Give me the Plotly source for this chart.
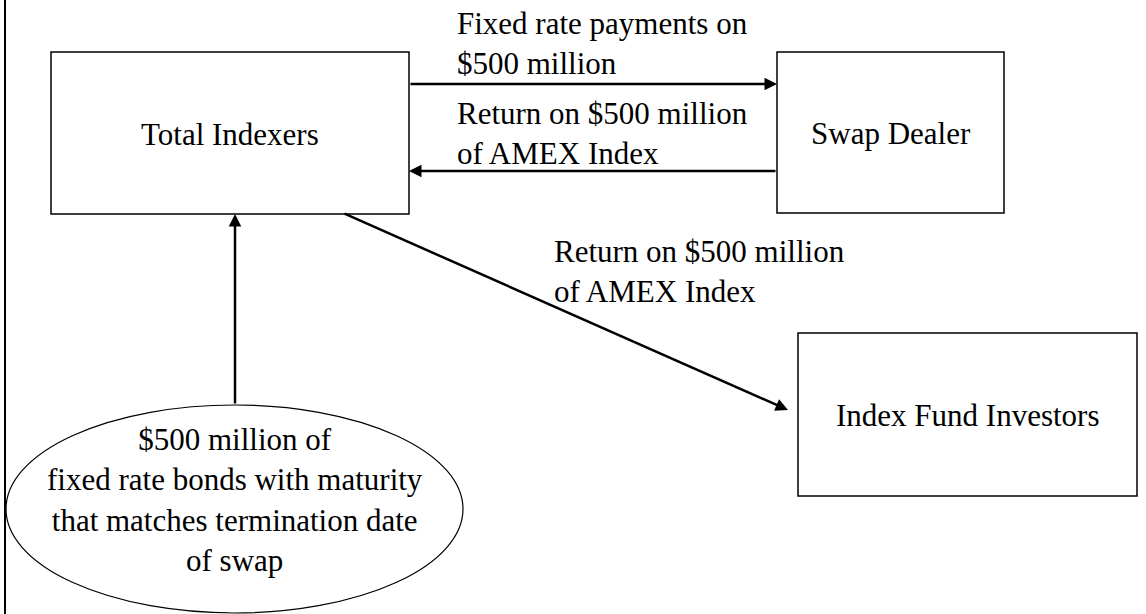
import plotly.graph_objects as go

# node labels
node_labels = ['Total Indexers', 'Swap Dealer', 'Index Fund Investors']
bond_label = ['$500 million of', 'fixed rate bonds with maturity',
              'that matches termination date', 'of swap']

# flow labels
fixed_flow = ['Fixed rate payments on', '$500 million']
index_flow = ['Return on $500 million', 'of AMEX Index']
investor_flow = ['Return on $500 million', 'of AMEX Index']

W, H = 1146, 614
FONT = 'Liberation Serif, Times New Roman, serif'
FS = 31

# box geometry (x0, y0, x1, y1) in pixel space, y downwards
boxes = [(51, 52, 409, 214), (777, 52, 1004, 213), (798, 333, 1137, 496)]
ellipse = (6, 405, 463, 613)

fig = go.Figure()

shapes = []
for b in boxes:
    shapes.append(dict(type='rect', x0=b[0], y0=b[1], x1=b[2], y1=b[3],
                       line=dict(color='black', width=1.5), xref='x', yref='y'))
shapes.append(dict(type='circle', x0=ellipse[0], y0=ellipse[1], x1=ellipse[2], y1=ellipse[3],
                   line=dict(color='black', width=1.2), xref='x', yref='y'))
# left page border
shapes.append(dict(type='line', x0=5, y0=0, x1=5, y1=H,
                   line=dict(color='black', width=2), xref='x', yref='y'))

annots = []
# box labels
for b, lab in zip(boxes, node_labels):
    annots.append(dict(x=(b[0] + b[2]) / 2, y=(b[1] + b[3]) / 2 + 1, text=lab,
                       showarrow=False, xanchor='center', yanchor='middle'))
# ellipse label
annots.append(dict(x=(ellipse[0] + ellipse[2]) / 2, y=500, text='<br>'.join(bond_label),
                   showarrow=False, xanchor='center', yanchor='middle', align='center'))

# flow labels
annots.append(dict(x=455, y=43, text='<br>'.join(fixed_flow), showarrow=False,
                   xanchor='left', yanchor='middle', align='left'))
annots.append(dict(x=455, y=133, text='<br>'.join(index_flow), showarrow=False,
                   xanchor='left', yanchor='middle', align='left'))
annots.append(dict(x=552, y=271, text='<br>'.join(investor_flow), showarrow=False,
                   xanchor='left', yanchor='middle', align='left'))

# arrows: (tail, tip)
arrows = [((409, 84), (777, 84)),
          ((777, 171), (409, 171)),
          ((343, 213), (788, 410)),
          ((235, 405), (235, 214))]
for tail, tip in arrows:
    annots.append(dict(x=tip[0], y=tip[1], ax=tail[0], ay=tail[1], axref='x', ayref='y',
                       xref='x', yref='y', text='', showarrow=True, arrowhead=2,
                       arrowsize=1, arrowwidth=2.5, arrowcolor='black', standoff=0))

fig.update_layout(
    width=W, height=H,
    margin=dict(l=0, r=0, t=0, b=0),
    paper_bgcolor='white', plot_bgcolor='white',
    xaxis=dict(range=[0, W], visible=False, fixedrange=True),
    yaxis=dict(range=[H, 0], visible=False, fixedrange=True),
    shapes=shapes, annotations=annots,
    font=dict(family=FONT, size=FS, color='black'),
    showlegend=False,
)

fig.write_html("out.html", config={'displayModeBar': False},
               post_script="document.body.style.margin='0';")
